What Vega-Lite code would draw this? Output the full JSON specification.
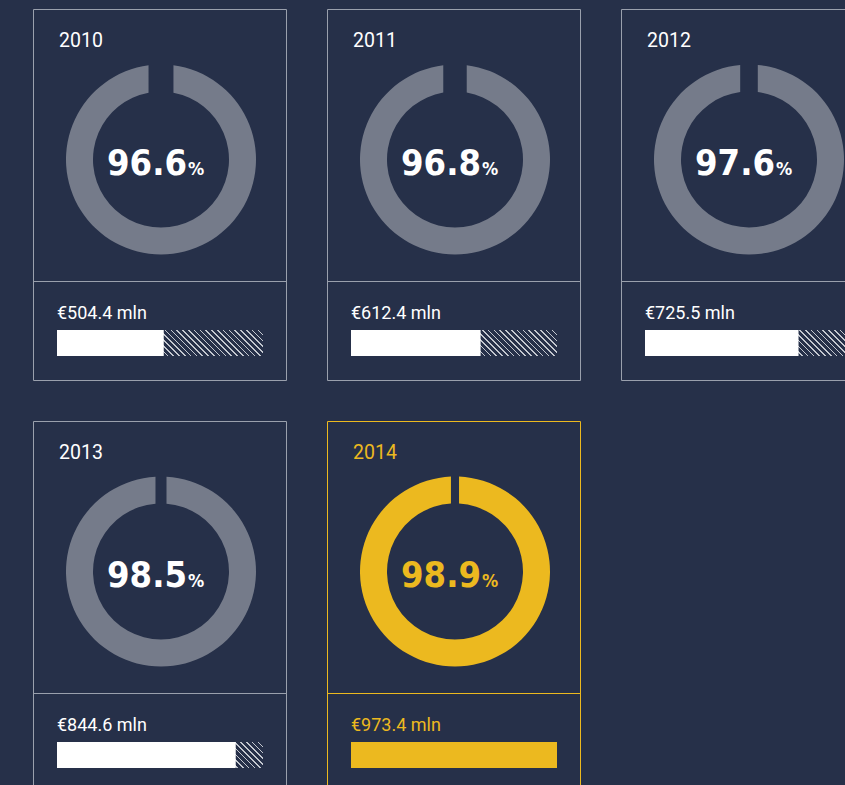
{
  "$schema": "https://vega.github.io/schema/vega-lite/v6.json",
  "background": "#263049",
  "padding": {"left": 33, "top": 9, "right": 0, "bottom": 0},
  "config": {"view": {"stroke": null}, "header": {"labels": false, "title": null, "labelFontSize": 0, "labelPadding": 0}},
  "data": {"values": [
    {"year": "2010", "pct": 96.6, "amount": 504.4},
    {"year": "2011", "pct": 96.8, "amount": 612.4},
    {"year": "2012", "pct": 97.6, "amount": 725.5},
    {"year": "2013", "pct": 98.5, "amount": 844.6},
    {"year": "2014", "pct": 98.9, "amount": 973.4}
  ]},
  "transform": [
    {"calculate": "'€' + format(datum.amount, '.1f') + ' mln'", "as": "amountLabel"},
    {"calculate": "format(datum.pct, '.1f')", "as": "pctLabel"}
  ],
  "facet": {"field": "year", "type": "ordinal", "header": {"title": null, "labels": false}},
  "columns": 3,
  "spacing": {"row": 40, "column": 40},
  "spec": {
    "width": 254,
    "height": 372,
    "layer": [
      {
        "mark": {"type": "rect", "filled": false, "strokeWidth": 1},
        "encoding": {
          "x": {"value": 0.5}, "x2": {"value": 253.5},
          "y": {"value": 0.5}, "y2": {"value": 371.5},
          "stroke": {"condition": {"test": "datum.year == '2014'", "value": "#ecb91f"}, "value": "#9aa0ad"}
        }
      },
      {
        "mark": {"type": "rule", "strokeWidth": 1},
        "encoding": {
          "x": {"value": 0.5}, "x2": {"value": 253.5},
          "y": {"value": 272.5},
          "stroke": {"condition": {"test": "datum.year == '2014'", "value": "#ecb91f"}, "value": "#9aa0ad"}
        }
      },
      {
        "mark": {"type": "text", "align": "left", "baseline": "alphabetic", "font": "Roboto", "fontSize": 19.5},
        "encoding": {
          "x": {"value": 26}, "y": {"value": 38},
          "text": {"field": "year"},
          "color": {"condition": {"test": "datum.year == '2014'", "value": "#ecb91f"}, "value": "#ffffff"}
        }
      },
      {
        "mark": {"type": "arc", "theta": 0, "theta2": 6.2831, "outerRadius": 95, "innerRadius": 68,
                 "padAngle": {"expr": "2 * PI * (1 - datum.pct / 100)"}},
        "encoding": {
          "x": {"value": 128}, "y": {"value": 150.5},
          "color": {"condition": {"test": "datum.year == '2014'", "value": "#ecb91f"}, "value": "#757b8a"}
        }
      },
      {
        "mark": {"type": "text", "align": "right", "baseline": "alphabetic", "font": "DejaVu Sans Condensed", "fontWeight": "bold", "fontSize": 36},
        "encoding": {
          "x": {"value": 154}, "y": {"value": 166},
          "text": {"field": "pctLabel"},
          "color": {"condition": {"test": "datum.year == '2014'", "value": "#ecb91f"}, "value": "#ffffff"}
        }
      },
      {
        "mark": {"type": "text", "align": "left", "baseline": "alphabetic", "font": "DejaVu Sans Condensed", "fontWeight": "bold", "fontSize": 18, "text": "%"},
        "encoding": {
          "x": {"value": 155}, "y": {"value": 166},
          "color": {"condition": {"test": "datum.year == '2014'", "value": "#ecb91f"}, "value": "#ffffff"}
        }
      },
      {
        "mark": {"type": "text", "align": "left", "baseline": "alphabetic", "font": "Roboto", "fontSize": 18},
        "encoding": {
          "x": {"value": 24}, "y": {"value": 310},
          "text": {"field": "amountLabel"},
          "color": {"condition": {"test": "datum.year == '2014'", "value": "#ecb91f"}, "value": "#ffffff"}
        }
      },
      {
        "mark": {"type": "rect", "fill": {"gradient": "linear", "x1": 0, "y1": 1, "x2": 1.108, "y2": 0.86, "stops": [
          {"offset": 0, "color": "#c3c7cf"}, {"offset": 0.007, "color": "#c3c7cf"}, {"offset": 0.007, "color": "#263049"}, {"offset": 0.025, "color": "#263049"},
          {"offset": 0.025, "color": "#c3c7cf"}, {"offset": 0.032, "color": "#c3c7cf"}, {"offset": 0.032, "color": "#263049"}, {"offset": 0.05, "color": "#263049"},
          {"offset": 0.05, "color": "#c3c7cf"}, {"offset": 0.057, "color": "#c3c7cf"}, {"offset": 0.057, "color": "#263049"}, {"offset": 0.075, "color": "#263049"},
          {"offset": 0.075, "color": "#c3c7cf"}, {"offset": 0.082, "color": "#c3c7cf"}, {"offset": 0.082, "color": "#263049"}, {"offset": 0.1, "color": "#263049"},
          {"offset": 0.1, "color": "#c3c7cf"}, {"offset": 0.107, "color": "#c3c7cf"}, {"offset": 0.107, "color": "#263049"}, {"offset": 0.125, "color": "#263049"},
          {"offset": 0.125, "color": "#c3c7cf"}, {"offset": 0.132, "color": "#c3c7cf"}, {"offset": 0.132, "color": "#263049"}, {"offset": 0.15, "color": "#263049"},
          {"offset": 0.15, "color": "#c3c7cf"}, {"offset": 0.157, "color": "#c3c7cf"}, {"offset": 0.157, "color": "#263049"}, {"offset": 0.175, "color": "#263049"},
          {"offset": 0.175, "color": "#c3c7cf"}, {"offset": 0.182, "color": "#c3c7cf"}, {"offset": 0.182, "color": "#263049"}, {"offset": 0.2, "color": "#263049"},
          {"offset": 0.2, "color": "#c3c7cf"}, {"offset": 0.207, "color": "#c3c7cf"}, {"offset": 0.207, "color": "#263049"}, {"offset": 0.225, "color": "#263049"},
          {"offset": 0.225, "color": "#c3c7cf"}, {"offset": 0.232, "color": "#c3c7cf"}, {"offset": 0.232, "color": "#263049"}, {"offset": 0.25, "color": "#263049"},
          {"offset": 0.25, "color": "#c3c7cf"}, {"offset": 0.257, "color": "#c3c7cf"}, {"offset": 0.257, "color": "#263049"}, {"offset": 0.275, "color": "#263049"},
          {"offset": 0.275, "color": "#c3c7cf"}, {"offset": 0.282, "color": "#c3c7cf"}, {"offset": 0.282, "color": "#263049"}, {"offset": 0.3, "color": "#263049"},
          {"offset": 0.3, "color": "#c3c7cf"}, {"offset": 0.307, "color": "#c3c7cf"}, {"offset": 0.307, "color": "#263049"}, {"offset": 0.325, "color": "#263049"},
          {"offset": 0.325, "color": "#c3c7cf"}, {"offset": 0.332, "color": "#c3c7cf"}, {"offset": 0.332, "color": "#263049"}, {"offset": 0.35, "color": "#263049"},
          {"offset": 0.35, "color": "#c3c7cf"}, {"offset": 0.357, "color": "#c3c7cf"}, {"offset": 0.357, "color": "#263049"}, {"offset": 0.375, "color": "#263049"},
          {"offset": 0.375, "color": "#c3c7cf"}, {"offset": 0.382, "color": "#c3c7cf"}, {"offset": 0.382, "color": "#263049"}, {"offset": 0.4, "color": "#263049"},
          {"offset": 0.4, "color": "#c3c7cf"}, {"offset": 0.407, "color": "#c3c7cf"}, {"offset": 0.407, "color": "#263049"}, {"offset": 0.425, "color": "#263049"},
          {"offset": 0.425, "color": "#c3c7cf"}, {"offset": 0.432, "color": "#c3c7cf"}, {"offset": 0.432, "color": "#263049"}, {"offset": 0.45, "color": "#263049"},
          {"offset": 0.45, "color": "#c3c7cf"}, {"offset": 0.457, "color": "#c3c7cf"}, {"offset": 0.457, "color": "#263049"}, {"offset": 0.475, "color": "#263049"},
          {"offset": 0.475, "color": "#c3c7cf"}, {"offset": 0.482, "color": "#c3c7cf"}, {"offset": 0.482, "color": "#263049"}, {"offset": 0.5, "color": "#263049"},
          {"offset": 0.5, "color": "#c3c7cf"}, {"offset": 0.507, "color": "#c3c7cf"}, {"offset": 0.507, "color": "#263049"}, {"offset": 0.525, "color": "#263049"},
          {"offset": 0.525, "color": "#c3c7cf"}, {"offset": 0.532, "color": "#c3c7cf"}, {"offset": 0.532, "color": "#263049"}, {"offset": 0.55, "color": "#263049"},
          {"offset": 0.55, "color": "#c3c7cf"}, {"offset": 0.557, "color": "#c3c7cf"}, {"offset": 0.557, "color": "#263049"}, {"offset": 0.575, "color": "#263049"},
          {"offset": 0.575, "color": "#c3c7cf"}, {"offset": 0.582, "color": "#c3c7cf"}, {"offset": 0.582, "color": "#263049"}, {"offset": 0.6, "color": "#263049"},
          {"offset": 0.6, "color": "#c3c7cf"}, {"offset": 0.607, "color": "#c3c7cf"}, {"offset": 0.607, "color": "#263049"}, {"offset": 0.625, "color": "#263049"},
          {"offset": 0.625, "color": "#c3c7cf"}, {"offset": 0.632, "color": "#c3c7cf"}, {"offset": 0.632, "color": "#263049"}, {"offset": 0.65, "color": "#263049"},
          {"offset": 0.65, "color": "#c3c7cf"}, {"offset": 0.657, "color": "#c3c7cf"}, {"offset": 0.657, "color": "#263049"}, {"offset": 0.675, "color": "#263049"},
          {"offset": 0.675, "color": "#c3c7cf"}, {"offset": 0.682, "color": "#c3c7cf"}, {"offset": 0.682, "color": "#263049"}, {"offset": 0.7, "color": "#263049"},
          {"offset": 0.7, "color": "#c3c7cf"}, {"offset": 0.707, "color": "#c3c7cf"}, {"offset": 0.707, "color": "#263049"}, {"offset": 0.725, "color": "#263049"},
          {"offset": 0.725, "color": "#c3c7cf"}, {"offset": 0.732, "color": "#c3c7cf"}, {"offset": 0.732, "color": "#263049"}, {"offset": 0.75, "color": "#263049"},
          {"offset": 0.75, "color": "#c3c7cf"}, {"offset": 0.757, "color": "#c3c7cf"}, {"offset": 0.757, "color": "#263049"}, {"offset": 0.775, "color": "#263049"},
          {"offset": 0.775, "color": "#c3c7cf"}, {"offset": 0.782, "color": "#c3c7cf"}, {"offset": 0.782, "color": "#263049"}, {"offset": 0.8, "color": "#263049"},
          {"offset": 0.8, "color": "#c3c7cf"}, {"offset": 0.807, "color": "#c3c7cf"}, {"offset": 0.807, "color": "#263049"}, {"offset": 0.825, "color": "#263049"},
          {"offset": 0.825, "color": "#c3c7cf"}, {"offset": 0.832, "color": "#c3c7cf"}, {"offset": 0.832, "color": "#263049"}, {"offset": 0.85, "color": "#263049"},
          {"offset": 0.85, "color": "#c3c7cf"}, {"offset": 0.857, "color": "#c3c7cf"}, {"offset": 0.857, "color": "#263049"}, {"offset": 0.875, "color": "#263049"},
          {"offset": 0.875, "color": "#c3c7cf"}, {"offset": 0.882, "color": "#c3c7cf"}, {"offset": 0.882, "color": "#263049"}, {"offset": 0.9, "color": "#263049"},
          {"offset": 0.9, "color": "#c3c7cf"}, {"offset": 0.907, "color": "#c3c7cf"}, {"offset": 0.907, "color": "#263049"}, {"offset": 0.925, "color": "#263049"},
          {"offset": 0.925, "color": "#c3c7cf"}, {"offset": 0.932, "color": "#c3c7cf"}, {"offset": 0.932, "color": "#263049"}, {"offset": 0.95, "color": "#263049"},
          {"offset": 0.95, "color": "#c3c7cf"}, {"offset": 0.957, "color": "#c3c7cf"}, {"offset": 0.957, "color": "#263049"}, {"offset": 0.975, "color": "#263049"},
          {"offset": 0.975, "color": "#c3c7cf"}, {"offset": 0.982, "color": "#c3c7cf"}, {"offset": 0.982, "color": "#263049"}, {"offset": 1, "color": "#263049"}
        ]}},
        "encoding": {
          "x": {"value": 24}, "x2": {"value": 230},
          "y": {"value": 321}, "y2": {"value": 347}
        }
      },
      {
        "mark": {"type": "rect"},
        "encoding": {
          "x": {"field": "amount", "type": "quantitative", "scale": {"nice": false, "zero": true, "range": [24, 230]}, "axis": null},
          "x2": {"datum": 0},
          "y": {"value": 321}, "y2": {"value": 347},
          "color": {"condition": {"test": "datum.year == '2014'", "value": "#ecb91f"}, "value": "#ffffff"}
        }
      }
    ]
  }
}
